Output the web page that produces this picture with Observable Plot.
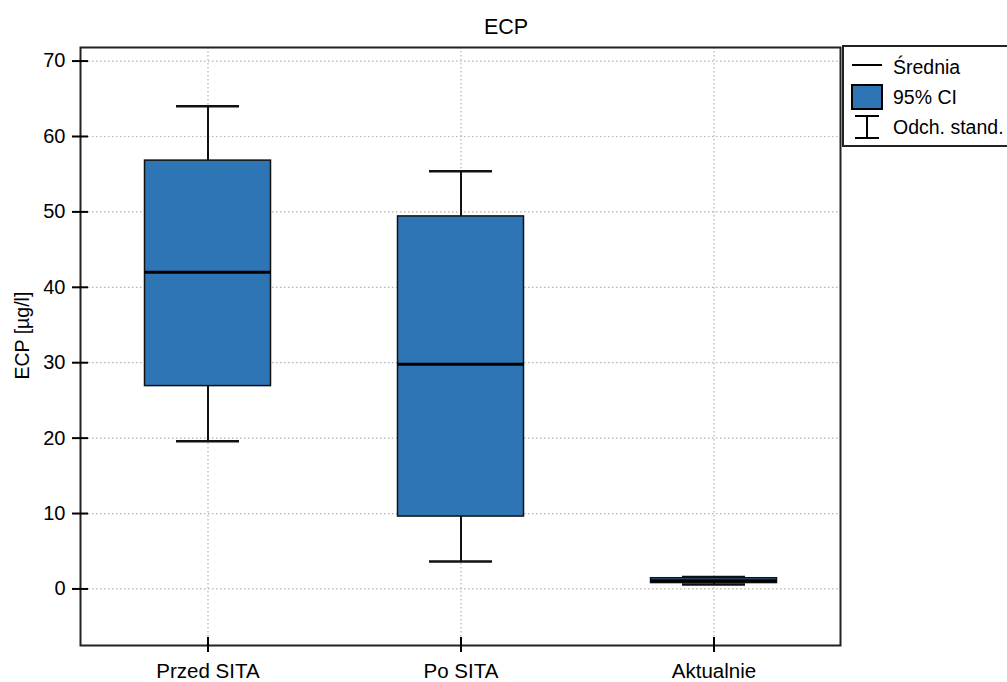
<!DOCTYPE html>
<html>
<head>
<meta charset="utf-8">
<script src="https://cdn.jsdelivr.net/npm/d3@7"></script>
<script src="https://cdn.jsdelivr.net/npm/@observablehq/plot@0.6"></script>
<style>
  body { margin: 0; background: #fff; font-family: "Liberation Sans", Arial, sans-serif; }
  #wrap { position: relative; width: 1007px; height: 682px; overflow: hidden; }
  #legend {
    position: absolute; left: 842px; top: 45px; width: 180px; height: 102px;
    border: 2px solid #222; border-right: none; background: #fff; box-sizing: border-box;
    font-size: 19.5px; color: #000;
  }
  #legend .row { position: absolute; left: 0; display: flex; align-items: center; white-space: nowrap; }
  #legend svg { margin-left: 7px; margin-right: 10px; flex: none; }
</style>
</head>
<body>
<div id="wrap">
  <div id="chart"></div>
  <div id="legend">
    <div class="row" style="top:8px; height:24px">
      <svg width="32" height="24"><line x1="1" x2="31" y1="10" y2="10" stroke="#000" stroke-width="2"/></svg>Średnia
    </div>
    <div class="row" style="top:37px; height:26px">
      <svg width="32" height="26"><rect x="1" y="1" width="30" height="24" fill="#2e75b6" stroke="#000" stroke-width="2"/></svg>95% CI
    </div>
    <div class="row" style="top:67px; height:26px">
      <svg width="32" height="26"><g stroke="#000" stroke-width="2"><line x1="4" x2="28" y1="2" y2="2"/><line x1="16" x2="16" y1="2" y2="24"/><line x1="4" x2="28" y1="24" y2="24"/></g></svg>Odch. stand.
    </div>
  </div>
</div>
<script>
// ECP before/after SITA: mean, 95% CI and standard deviation range per group
const categories = ["Przed SITA", "Po SITA", "Aktualnie"];
const means  = [42.0, 29.8, 1.1];
const ciLow  = [26.9, 9.6, 0.78];
const ciHigh = [56.8, 49.4, 1.42];
const sdLow  = [19.6, 3.65, 0.6];
const sdHigh = [64.0, 55.4, 1.6];
const yTicks = [0, 10, 20, 30, 40, 50, 60, 70];

const rows = categories.map((c, i) => ({
  group: c, mean: means[i], lo: ciLow[i], hi: ciHigh[i], sdLo: sdLow[i], sdHi: sdHigh[i]
}));

const blue = "#2e75b6";
const grid = {stroke: "#b4b4b4", strokeOpacity: 1, strokeDasharray: "1.5,2.5", strokeWidth: 1.2};
const boxInset = {insetLeft: 63.5, insetRight: 63.5};
const capInset = {insetLeft: 95, insetRight: 95};

const chart = Plot.plot({
  width: 1007,
  height: 682,
  marginTop: 47,
  marginLeft: 80,
  marginRight: 167,
  marginBottom: 37,
  style: {fontFamily: "'Liberation Sans', Arial, sans-serif", fontSize: "20px", color: "#000", background: "#fff"},
  x: {type: "band", domain: categories, paddingInner: 0, paddingOuter: 0, label: null},
  y: {domain: [-7.5, 71.8], label: null},
  marks: [
    Plot.gridY(yTicks, grid),
    Plot.ruleX(categories, {x: d => d, ...grid}),
    // standard deviation whiskers
    Plot.ruleX(rows, {x: "group", y1: "sdLo", y2: "sdHi", stroke: "#111", strokeWidth: 2}),
    Plot.tickY(rows, {x: "group", y: "sdHi", stroke: "#111", strokeWidth: 2.5, ...capInset}),
    Plot.tickY(rows, {x: "group", y: "sdLo", stroke: "#111", strokeWidth: 2.5, ...capInset}),
    // 95% confidence interval box
    Plot.barY(rows, {x: "group", y1: "lo", y2: "hi", fill: blue, stroke: "#111", strokeWidth: 1.5, ...boxInset}),
    // mean line
    Plot.tickY(rows, {x: "group", y: "mean", stroke: "#000", strokeWidth: 3, ...boxInset}),
    Plot.frame({stroke: "#222", strokeWidth: 2}),
    // axes with ticks crossing the frame
    Plot.axisY(yTicks, {tickSize: 8, tickPadding: 7, stroke: "#000", strokeWidth: 2, fontSize: 20, label: null}),
    Plot.axisY(yTicks, {tickSize: 8, text: null, dx: 8, stroke: "#000", strokeWidth: 2, label: null}),
    Plot.axisX(categories, {tickSize: 7, tickPadding: 11, stroke: "#000", strokeWidth: 2, fontSize: 20.5, label: null}),
    Plot.axisX(categories, {tickSize: 8, text: null, dy: -8, stroke: "#000", strokeWidth: 2, label: null}),
    // title and y-axis label
    Plot.text(["ECP"], {frameAnchor: "top", dx: 45.5, dy: -29, fontSize: 21.5, fill: "#000"}),
    Plot.text(["ECP [µg/l]"], {frameAnchor: "left", dx: -58, dy: 33, rotate: -90, fontSize: 19.5, fill: "#000"})
  ]
});
document.getElementById("chart").appendChild(chart);
</script>
</body>
</html>
